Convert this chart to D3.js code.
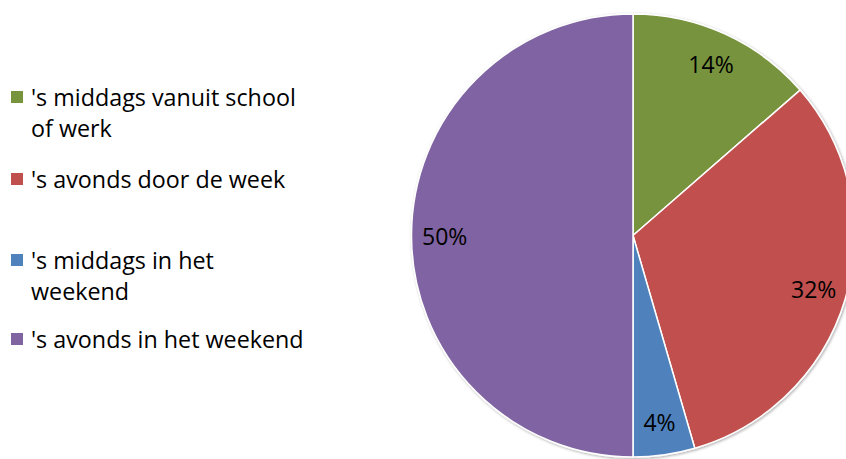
<!DOCTYPE html>
<html>
<head>
<meta charset="utf-8">
<script src="https://cdn.jsdelivr.net/npm/d3@7"></script>
<style>
  html, body { margin: 0; padding: 0; background: #fff; }
  svg { display: block; font-family: "Open Sans", Lato, sans-serif; }
</style>
</head>
<body>
<svg id="chart" width="846" height="459"></svg>
<script>
// categories (legend order = slice order, clockwise from 12 o'clock)
const categories = [
  ["'s middags vanuit school", "of werk"],
  ["'s avonds door de week"],
  ["'s middags in het", "weekend"],
  ["'s avonds in het weekend"]
];
// share per category
const values = [13.6, 31.9, 4.5, 50.0];
// percentage labels as printed on the slices
const pctLabels = ["14%", "32%", "4%", "50%"];
const colors = ["#77933C", "#C0504D", "#4F81BD", "#8064A2"];

const svg = d3.select("#chart");
const cx = 633, cy = 235.5, R = 221.5;

// soft shadow round the pie
const defs = svg.append("defs");
const f = defs.append("filter").attr("id", "shadow")
  .attr("x", "-10%").attr("y", "-10%").attr("width", "120%").attr("height", "120%");
f.append("feGaussianBlur").attr("in", "SourceAlpha").attr("stdDeviation", 1.5);
f.append("feOffset").attr("dx", 0.5).attr("dy", 1).attr("result", "b");
f.append("feComponentTransfer").append("feFuncA").attr("type", "linear").attr("slope", 0.35);
const m = f.append("feMerge");
m.append("feMergeNode");
m.append("feMergeNode").attr("in", "SourceGraphic");

const pie = d3.pie().sort(null).value(d => d);
const arcs = pie(values);
const arc = d3.arc().innerRadius(0).outerRadius(R);
const labelArc = d3.arc().innerRadius(R * 0.85).outerRadius(R * 0.85);

const g = svg.append("g").attr("transform", `translate(${cx},${cy})`);

g.append("g").attr("filter", "url(#shadow)")
  .selectAll("path")
  .data(arcs)
  .join("path")
    .attr("d", arc)
    .attr("fill", (d, i) => colors[i])
    .attr("stroke", "#fff")
    .attr("stroke-width", 1.5)
    .attr("stroke-linejoin", "round");

g.selectAll("text.pct")
  .data(arcs)
  .join("text")
    .attr("class", "pct")
    .attr("transform", d => `translate(${labelArc.centroid(d)})`)
    .attr("text-anchor", "middle")
    .attr("dominant-baseline", "central")
    .attr("font-size", 23)
    .attr("fill", "#000")
    .text((d, i) => pctLabels[i]);

// ── Legend ──
const legendY = [97, 179, 260, 339];
const legend = svg.append("g").selectAll("g")
  .data(categories)
  .join("g")
    .attr("transform", (d, i) => `translate(11,${legendY[i]})`);

legend.append("rect")
  .attr("x", 0).attr("y", -6)
  .attr("width", 12).attr("height", 12)
  .attr("fill", (d, i) => colors[i]);

legend.append("text")
  .attr("x", 20)
  .attr("y", 9)
  .attr("font-size", 23.3)
  .attr("fill", "#000")
  .selectAll("tspan")
  .data(d => d)
  .join("tspan")
    .attr("x", 20)
    .attr("dy", (d, j) => j === 0 ? 0 : 31)
    .text(d => d);
</script>
</body>
</html>
